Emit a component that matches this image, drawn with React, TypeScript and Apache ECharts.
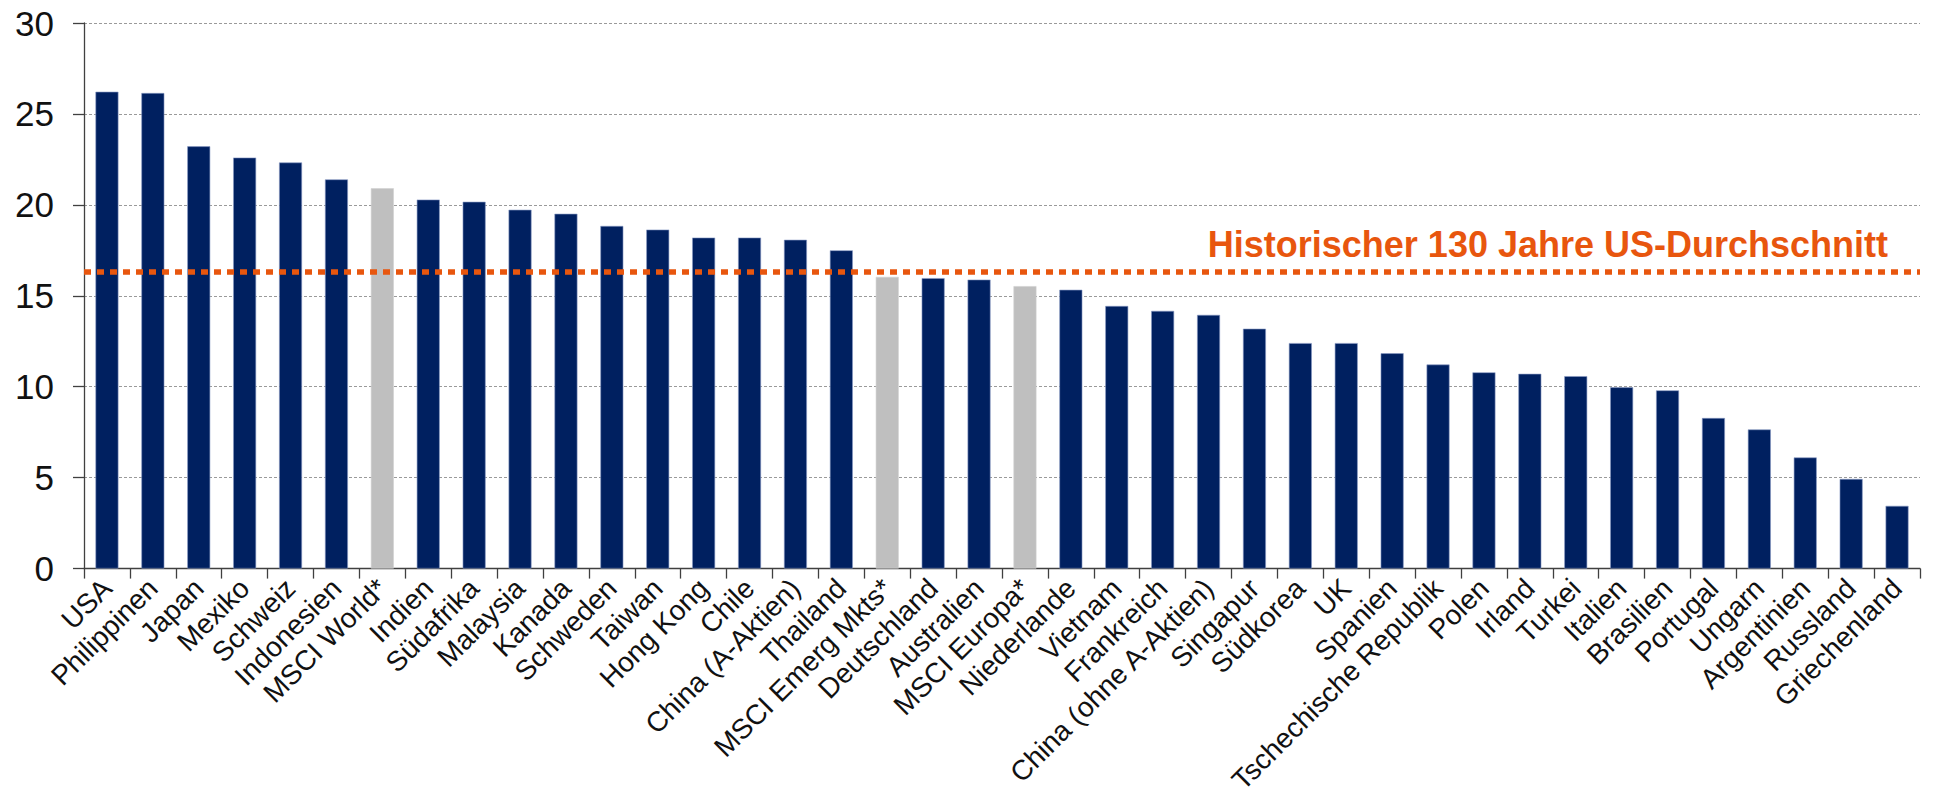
import React, { useEffect, useRef } from "react";
import * as echarts from "echarts";

// Markets, ordered from highest to lowest value
const categories: string[] = [
  "USA", "Philippinen", "Japan", "Mexiko", "Schweiz", "Indonesien", "MSCI World*",
  "Indien", "Südafrika", "Malaysia", "Kanada", "Schweden", "Taiwan", "Hong Kong",
  "Chile", "China (A-Aktien)", "Thailand", "MSCI Emerg Mkts*", "Deutschland",
  "Australien", "MSCI Europa*", "Niederlande", "Vietnam", "Frankreich",
  "China (ohne A-Aktien)", "Singapur", "Südkorea", "UK", "Spanien",
  "Tschechische Republik", "Polen", "Irland", "Turkei", "Italien", "Brasilien",
  "Portugal", "Ungarn", "Argentinien", "Russland", "Griechenland",
];

const values: number[] = [
  26.22, 26.15, 23.22, 22.6, 22.33, 21.4, 20.91,
  20.29, 20.17, 19.73, 19.51, 18.84, 18.64, 18.2,
  18.2, 18.08, 17.5, 16.04, 15.97,
  15.89, 15.53, 15.33, 14.44, 14.17,
  13.95, 13.19, 12.4, 12.4, 11.84,
  11.22, 10.79, 10.71, 10.58, 9.97, 9.8,
  8.28, 7.65, 6.11, 4.93, 3.45,
];

// Index benchmarks shown in grey
const benchmarks: string[] = ["MSCI World*", "MSCI Emerg Mkts*", "MSCI Europa*"];

// Long-run US average, drawn as a dotted reference line
const histUsAverage = 16.3;
const histUsLabel = "Historischer 130 Jahre US-Durchschnitt";

const yTicks = { min: 0, max: 30, interval: 5 };

const NAVY = "#002060";
const GREY = "#BFBFBF";
const ORANGE = "#E8560E";
const FONT = '"Liberation Sans", Arial, sans-serif';

export default function App() {
  const ref = useRef<HTMLDivElement>(null);

  useEffect(() => {
    if (!ref.current) return;
    const chart = echarts.init(ref.current, null, { renderer: "svg" });

    const barData = values.map((v, i) => ({
      value: v,
      itemStyle: {
        color: benchmarks.includes(categories[i]) ? GREY : NAVY,
        borderColor: benchmarks.includes(categories[i]) ? "#d0d0d0" : "#8a9ac4",
        borderWidth: 0.6,
      },
    }));

    chart.setOption({
      animation: false,
      backgroundColor: "#ffffff",
      textStyle: { fontFamily: FONT },
      grid: { left: 84, right: 15, top: 23, bottom: 224, containLabel: false },
      xAxis: {
        type: "category",
        data: categories,
        boundaryGap: true,
        axisLine: { lineStyle: { color: "#404040", width: 1.3 } },
        axisTick: { show: true, length: 10, lineStyle: { color: "#404040", width: 1.3 } },
        axisLabel: {
          interval: 0,
          rotate: 45,
          margin: 15,
          fontSize: 28,
          color: "#111111",
          fontFamily: FONT,
        },
        splitLine: { show: false },
      },
      yAxis: {
        type: "value",
        min: yTicks.min,
        max: yTicks.max,
        interval: yTicks.interval,
        axisLine: { show: true, lineStyle: { color: "#404040", width: 1.3 } },
        axisTick: { show: true, length: 11, lineStyle: { color: "#404040", width: 1.3 } },
        axisLabel: { fontSize: 35, color: "#111111", margin: 30, fontFamily: FONT },
        splitLine: {
          show: true,
          lineStyle: { color: "#9a9a9a", type: [3, 2], width: 1 },
        },
      },
      series: [
        {
          type: "bar",
          data: barData,
          barWidth: "50%",
          markLine: {
            silent: true,
            symbol: ["none", "none"],
            z: 10,
            label: { show: false },
            lineStyle: { color: ORANGE, width: 5.5, type: [7, 6], cap: "butt" },
            data: [{ yAxis: histUsAverage }],
          },
        },
      ],
      graphic: [
        {
          type: "text",
          right: 47,
          top: 226,
          style: {
            text: histUsLabel,
            fill: ORANGE,
            font: `bold 36px ${FONT}`,
          },
        },
      ],
    });

    return () => chart.dispose();
  }, []);

  return (
    <div
      ref={ref}
      style={{ position: "fixed", left: 0, top: 0, width: 1935, height: 797 }}
    />
  );
}
